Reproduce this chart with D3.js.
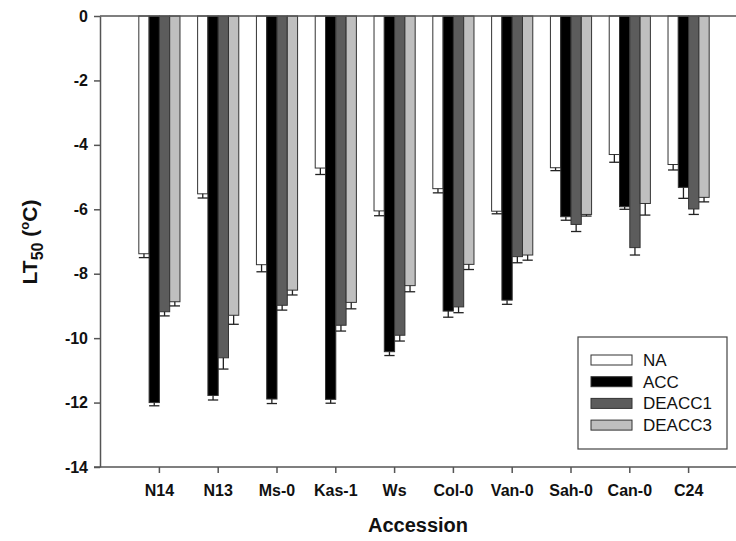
<!DOCTYPE html>
<html>
<head>
<meta charset="utf-8">
<script src="https://cdn.jsdelivr.net/npm/d3@7"></script>
<style>
  body { margin: 0; background: #fff; }
  svg { display: block; font-family: "Liberation Sans", Arial, sans-serif; }
  .tick text { font-weight: bold; font-size: 16px; fill: #111; }
</style>
</head>
<body>
<div id="chart"></div>
<script>
var accessions = ['N14', 'N13', 'Ms-0', 'Kas-1', 'Ws', 'Col-0', 'Van-0', 'Sah-0', 'Can-0', 'C24'];
var treatments = ['NA', 'ACC', 'DEACC1', 'DEACC3'];

// mean LT50 values and their error bars
var naVals     = [-7.38, -5.52, -7.72, -4.72, -6.05, -5.36, -6.06, -4.71, -4.30, -4.61];
var naErr      = [0.12, 0.13, 0.22, 0.20, 0.15, 0.13, 0.08, 0.09, 0.24, 0.17];
var accVals    = [-12.0, -11.78, -11.89, -11.9, -10.42, -9.16, -8.82, -6.23, -5.92, -5.32];
var accErr     = [0.10, 0.14, 0.14, 0.12, 0.12, 0.19, 0.13, 0.11, 0.08, 0.34];
var deacc1Vals = [-9.18, -10.61, -8.98, -9.6, -9.91, -9.03, -7.47, -6.47, -7.19, -5.99];
var deacc1Err  = [0.13, 0.35, 0.15, 0.18, 0.18, 0.18, 0.19, 0.22, 0.23, 0.17];
var deacc3Vals = [-8.87, -9.29, -8.51, -8.89, -8.37, -7.71, -7.42, -6.16, -5.82, -5.63];
var deacc3Err  = [0.13, 0.28, 0.15, 0.20, 0.19, 0.16, 0.16, 0.05, 0.36, 0.14];
var yTicks = [0, -2, -4, -6, -8, -10, -12, -14];

var seriesVals = [naVals, accVals, deacc1Vals, deacc3Vals];
var seriesErr = [naErr, accErr, deacc1Err, deacc3Err];
var colors = ['#ffffff', '#000000', '#5c5c5c', '#bfbfbf'];

var data = [];
accessions.forEach(function(a, i) {
  treatments.forEach(function(t, j) {
    data.push({acc: a, trt: t, value: seriesVals[j][i], err: seriesErr[j][i], color: colors[j]});
  });
});

var W = 736, H = 541;
var axisLeft = 100, axisRight = 736;

var svg = d3.select('#chart').append('svg')
  .attr('width', W)
  .attr('height', H);

var x = d3.scaleBand()
  .domain(accessions)
  .range([130, 718])
  .paddingInner(0.3)
  .paddingOuter(0.15);

var x1 = d3.scaleBand()
  .domain(treatments)
  .range([0, x.bandwidth()]);

var y = d3.scaleLinear()
  .domain([-14, 0])
  .range([467, 16]);

// bars
svg.selectAll('rect.bar')
  .data(data)
  .enter()
  .append('rect')
  .attr('class', 'bar')
  .attr('x', function(d) { return x(d.acc) + x1(d.trt); })
  .attr('y', y(0))
  .attr('width', x1.bandwidth())
  .attr('height', function(d) { return y(d.value) - y(0); })
  .attr('fill', function(d) { return d.color; })
  .attr('stroke', '#333')
  .attr('stroke-width', 1);

// error bars
var errG = svg.selectAll('g.err')
  .data(data)
  .enter()
  .append('g')
  .attr('class', 'err')
  .attr('stroke', '#222')
  .attr('stroke-width', 1.3);

errG.append('line')
  .attr('x1', function(d) { return x(d.acc) + x1(d.trt) + x1.bandwidth() / 2; })
  .attr('x2', function(d) { return x(d.acc) + x1(d.trt) + x1.bandwidth() / 2; })
  .attr('y1', function(d) { return y(d.value); })
  .attr('y2', function(d) { return y(d.value - d.err); });

errG.append('line')
  .attr('x1', function(d) { return x(d.acc) + x1(d.trt); })
  .attr('x2', function(d) { return x(d.acc) + x1(d.trt) + x1.bandwidth(); })
  .attr('y1', function(d) { return y(d.value - d.err); })
  .attr('y2', function(d) { return y(d.value - d.err); });

// top line at zero
svg.append('line')
  .attr('x1', axisLeft).attr('x2', axisRight)
  .attr('y1', y(0)).attr('y2', y(0))
  .attr('stroke', '#555').attr('stroke-width', 1.5);

// y axis
var yAxis = d3.axisLeft(y)
  .tickValues(yTicks)
  .tickFormat(function(d) { return String(d); })
  .tickSizeInner(6)
  .tickSizeOuter(0)
  .tickPadding(6);

var gy = svg.append('g')
  .attr('transform', 'translate(' + axisLeft + ',0)')
  .call(yAxis);
gy.select('.domain').attr('stroke', '#555').attr('stroke-width', 1.5);
gy.selectAll('.tick line').attr('stroke', '#555').attr('stroke-width', 1.5);

// x axis
var xAxis = d3.axisBottom(x)
  .tickSizeInner(6)
  .tickSizeOuter(0)
  .tickPadding(12);

var gx = svg.append('g')
  .attr('transform', 'translate(0,' + y(-14) + ')')
  .call(xAxis);
gx.select('.domain').remove();
gx.selectAll('.tick line').attr('stroke', '#555').attr('stroke-width', 1.5);
gx.append('line')
  .attr('x1', axisLeft - 6).attr('x2', axisRight)
  .attr('y1', 0).attr('y2', 0)
  .attr('stroke', '#555').attr('stroke-width', 1.5);

// axis titles
svg.append('text')
  .attr('x', 418)
  .attr('y', 532)
  .attr('text-anchor', 'middle')
  .style('font-weight', 'bold')
  .style('font-size', '20px')
  .attr('fill', '#111')
  .text('Accession');

var yl = svg.append('text')
  .attr('transform', 'translate(37,242) rotate(-90)')
  .attr('text-anchor', 'middle')
  .style('font-weight', 'bold')
  .style('font-size', '21px')
  .attr('fill', '#111');
yl.append('tspan').text('LT');
yl.append('tspan').attr('dy', 6).style('font-size', '16px').text('50');
yl.append('tspan').attr('dy', -6).text(' (');
yl.append('tspan').attr('dy', -8).style('font-size', '13px').text('o');
yl.append('tspan').attr('dy', 8).text('C)');

// legend
var legend = svg.append('g').attr('transform', 'translate(578,337)');
legend.append('rect')
  .attr('width', 149).attr('height', 112)
  .attr('fill', '#fff').attr('stroke', '#444').attr('stroke-width', 1.2);

var items = legend.selectAll('g.item')
  .data(treatments)
  .enter()
  .append('g')
  .attr('class', 'item')
  .attr('transform', function(d, i) { return 'translate(13,' + (18 + i * 21.7) + ')'; });

items.append('rect')
  .attr('width', 41).attr('height', 10)
  .attr('fill', function(d, i) { return colors[i]; })
  .attr('stroke', '#333').attr('stroke-width', 1);

items.append('text')
  .attr('x', 52).attr('y', 11)
  .style('font-size', '17px')
  .attr('fill', '#111')
  .text(function(d) { return d; });
</script>
</body>
</html>
